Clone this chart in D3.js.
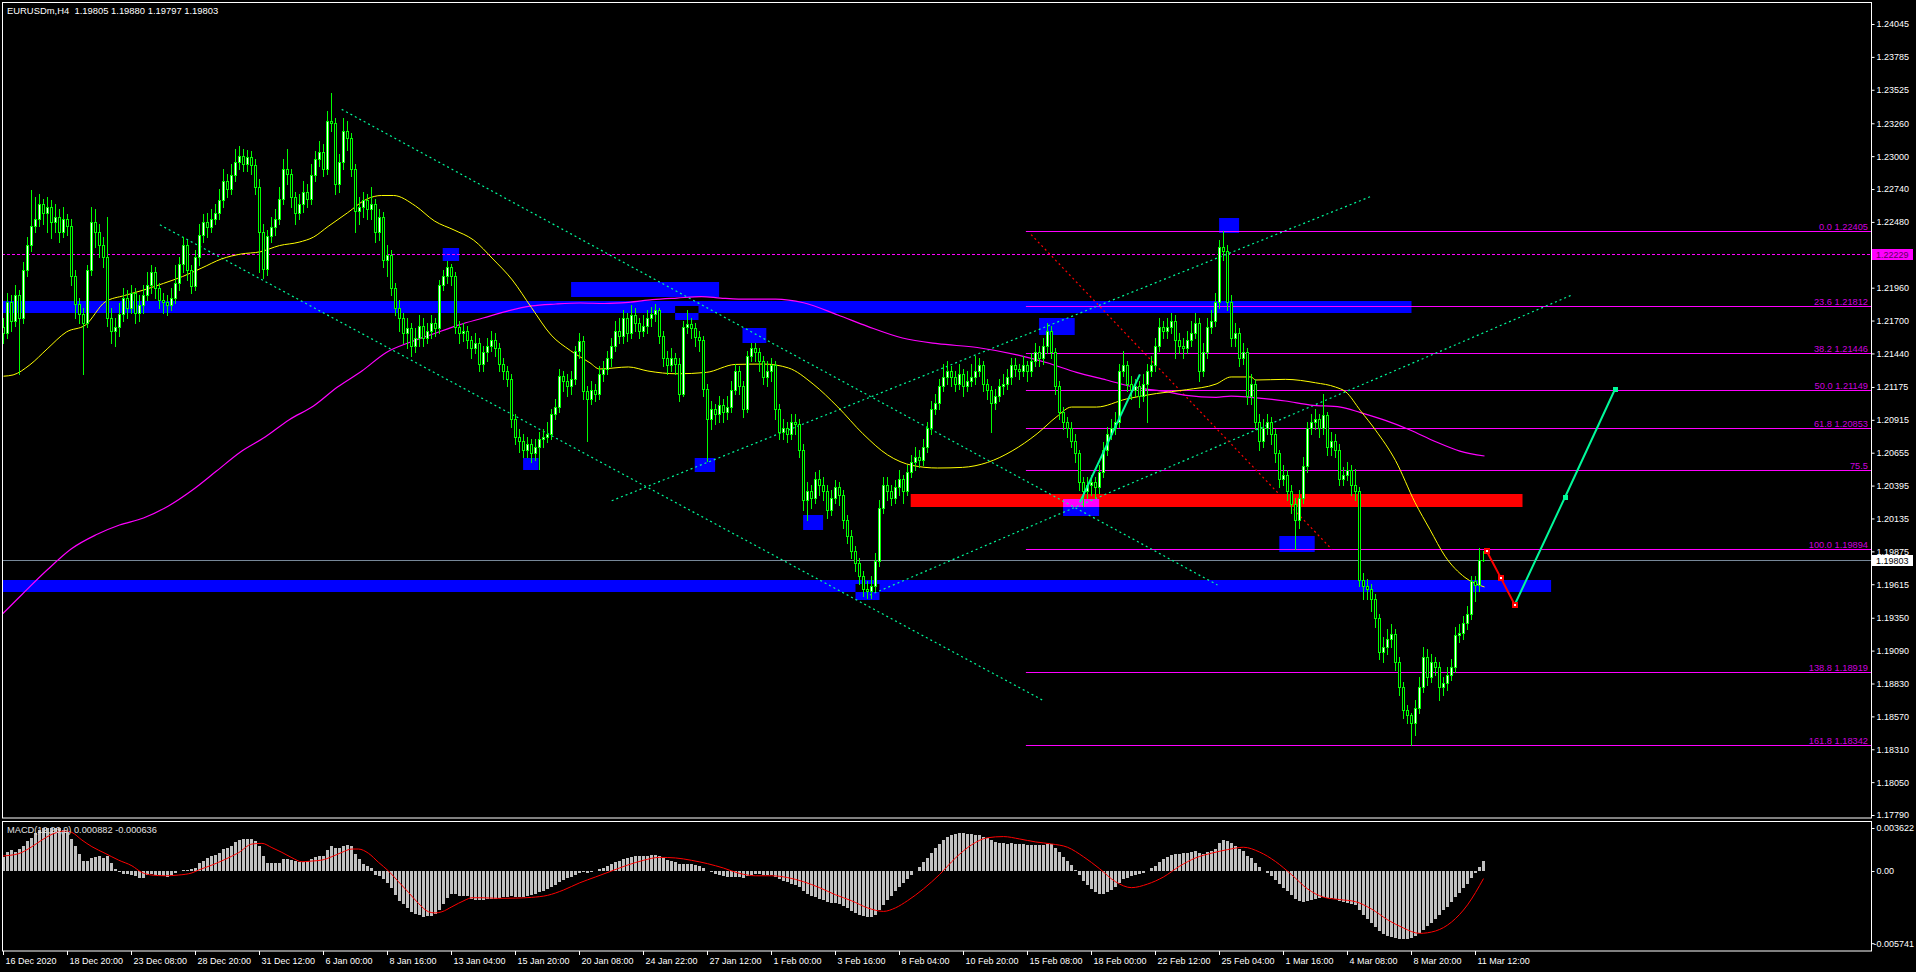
<!DOCTYPE html>
<html><head><meta charset="utf-8">
<script src="https://cdn.jsdelivr.net/npm/d3@7"></script>
<style>
html,body{margin:0;padding:0;background:#000;overflow:hidden;}
svg{display:block;}
text{font-family:"Liberation Sans",Arial,sans-serif;font-size:10px;}
</style></head><body>
<svg id="c" width="1916" height="972"></svg>
<script>
// ---- DATA (prices stored as pips above BASE) ----
const BASE = 1.18;
const symbolTitle = "EURUSDm,H4  1.19805 1.19880 1.19797 1.19803";
const macdTitle = "MACD(12,26,9) 0.000882 -0.000636";
const opens = [365,360,385,370,390,372,410,430,445,450,462,455,460,448,452,440,450,445,405,383,375,368,410,448,440,430,420,372,362,365,375,388,380,392,376,382,390,398,408,396,386,385,382,388,400,415,430,410,397,420,438,448,444,450,455,465,480,474,485,495,500,494,499,493,476,440,411,437,444,450,466,490,486,468,455,462,472,466,485,498,503,490,528,526,478,495,520,514,490,457,460,465,458,462,440,452,418,422,396,380,372,360,364,350,356,366,356,362,368,364,398,405,412,405,365,360,362,355,348,352,336,345,350,355,348,336,330,324,292,278,275,268,272,265,270,276,278,280,296,302,326,322,318,324,346,354,314,308,315,312,328,332,340,350,362,358,372,360,374,368,362,366,372,375,378,358,340,335,340,336,312,365,367,364,357,355,316,292,300,296,303,298,302,315,330,318,300,342,348,345,338,325,330,335,300,282,285,280,290,288,268,228,235,230,245,240,235,220,230,238,232,212,200,188,178,168,158,156,160,180,222,240,235,230,238,245,235,250,258,262,260,270,285,300,305,318,325,330,325,320,328,318,322,325,330,335,320,315,305,310,318,320,325,335,332,330,335,330,338,345,340,350,362,345,318,298,290,285,275,265,242,235,240,242,238,250,268,280,285,290,330,335,320,315,318,310,320,330,335,350,365,362,365,370,355,350,348,355,360,368,330,345,365,370,385,428,425,385,356,360,340,345,310,320,290,275,285,290,280,265,245,248,235,225,212,230,255,285,290,292,285,295,270,275,268,245,248,252,240,235,165,160,158,150,135,108,112,118,122,100,80,62,58,52,64,80,104,88,100,96,80,83,90,96,121,123,131,138,164,161,180.5];
const highs = [372,392,390,398,394,416,436,473,468,470,466,468,465,462,458,460,454,450,410,388,380,414,460,458,446,436,452,380,372,384,396,394,398,396,390,398,408,414,412,400,392,390,396,414,420,436,434,414,426,446,454,455,458,462,474,490,486,494,506,508,506,505,504,498,482,446,442,452,458,476,498,506,490,472,470,480,478,494,504,512,510,536,550,530,502,530,528,518,494,468,472,470,476,466,458,456,430,426,400,386,376,372,368,364,374,372,368,374,372,402,410,417,415,408,370,368,366,358,360,356,350,356,362,360,352,340,334,328,296,284,280,278,276,276,282,284,290,300,308,332,330,328,330,350,360,358,318,322,320,334,338,346,356,370,372,378,376,382,380,372,374,378,381,383,380,362,346,348,344,340,370,378,372,368,362,358,320,306,304,310,308,310,322,336,334,322,346,352,352,348,342,338,340,338,304,292,290,296,296,292,272,242,240,250,252,246,240,236,244,242,236,216,204,192,182,172,164,168,186,228,246,246,240,244,252,248,256,264,270,268,276,290,306,312,324,336,338,334,330,336,332,330,336,342,340,338,324,318,316,324,328,332,340,340,336,342,338,344,352,350,356,368,366,348,322,302,294,290,280,268,246,246,248,246,256,274,286,292,298,336,346,338,326,324,322,328,336,342,356,372,370,372,376,374,360,356,362,370,376,372,352,372,378,392,434,440.5,430,390,368,364,352,348,328,324,296,292,296,294,284,268,256,252,240,230,236,262,290,296,300,296,312,298,282,280,272,254,258,256,253,238,170,166,162,154,138,120,126,130,126,104,84,66,60,70,88,112,110,106,104,100,88,96,102,128,130,136,144,168,168,190,188];
const lows = [352,356,362,366,328,368,405,425,440,445,446,440,435,440,432,436,438,398,372,368,328,365,406,428,420,412,366,352,350,358,370,372,376,368,370,376,386,392,388,380,376,374,378,384,394,408,402,392,394,414,432,436,440,446,450,460,468,470,480,490,488,488,486,470,408,404,406,432,438,446,462,478,460,446,450,456,460,462,480,492,484,486,520,470,472,490,505,484,440,446,452,450,450,432,434,412,405,390,374,362,352,348,342,345,350,350,352,356,358,360,394,400,398,360,352,354,348,340,344,330,330,338,346,342,330,324,318,286,272,266,262,262,258,260,253,270,274,276,292,298,314,310,312,320,340,308,275,304,306,308,322,328,334,346,352,352,354,356,362,356,358,360,366,370,352,334,328,330,328,306,310,360,356,350,346,310,259,284,288,290,290,292,298,312,312,294,298,338,338,330,320,318,322,292,276,276,274,276,280,262,220,212,222,226,232,228,214,216,226,224,206,194,182,172,162,152,151,151,156,176,218,228,224,226,232,226,232,246,252,254,256,266,280,296,300,314,320,318,314,316,310,314,318,320,326,314,308,282,300,306,312,316,320,326,324,326,322,326,334,334,336,344,340,312,292,284,278,270,258,236,223,230,232,230,234,246,264,276,280,286,326,314,308,310,302,306,290,326,330,346,356,356,360,340,344,340,344,350,356,322,326,340,360,366,380,418,378,350,350,334,336,304,304,284,268,270,280,272,258,238,240,228,218,189.5,206,226,250,280,284,278,280,264,264,262,240,240,244,232,228,160,150,150,140,128,102,100,106,112,94,74,56,52,34.2,42,60,76,82,84,90,70,74,78,86,92,116,118,126,134,148,156,179.7];
const closes = [360,385,370,390,372,410,430,445,450,462,455,460,448,452,440,450,445,405,383,375,368,410,448,440,430,420,372,362,365,375,388,380,392,376,382,390,398,408,396,386,385,382,388,400,415,430,410,397,420,438,448,444,450,455,465,480,474,485,495,500,494,499,493,476,440,411,437,444,450,466,490,486,468,455,462,472,466,485,498,503,490,528,526,478,495,520,514,490,457,460,465,458,462,440,452,418,422,396,380,372,360,364,350,356,366,356,362,368,364,398,405,412,405,365,360,362,355,348,352,336,345,350,355,348,336,330,324,292,278,275,268,272,265,270,276,278,280,296,302,326,322,318,324,346,354,314,308,315,312,328,332,340,350,362,358,372,360,374,368,362,366,372,375,378,358,340,335,340,336,312,365,367,364,357,355,316,292,300,296,303,298,302,315,330,318,300,342,348,345,338,325,330,335,300,282,285,280,290,288,268,228,235,230,245,240,235,220,230,238,232,212,200,188,178,168,158,156,160,180,222,240,235,230,238,245,235,250,258,262,260,270,285,300,305,318,325,330,325,320,328,318,322,325,330,335,320,315,305,310,318,320,325,335,332,330,335,330,338,345,340,350,362,345,318,298,290,285,275,265,242,235,240,242,238,250,268,280,285,290,330,335,320,315,318,310,320,330,335,350,365,362,365,370,355,350,348,355,360,368,330,345,365,370,385,428,425,385,356,360,340,345,310,320,290,275,285,290,280,265,245,248,235,225,212,230,255,285,290,292,285,295,270,275,268,245,248,252,240,235,165,160,158,150,135,108,112,118,122,100,80,62,58,52,64,80,104,88,100,96,80,83,90,96,121,123,131,138,164,161,181,180.3];

// moving averages, sampled [bar, pips]
const maYellow = [[0,326],[2.4,327],[6.6,335],[10.9,347.5],[15.75,361],[20.5,366.5],[25.4,384.7],[30.25,389.8],[35.1,394.2],[40,399.4],[44.75,404.8],[49.6,411.6],[54.5,418.7],[59.35,422.6],[64.2,424.4],[69,429.3],[73.9,432],[77.5,436],[81.15,444.4],[86,455.2],[90.85,466.1],[94.5,468.9],[97.5,468.9],[103,460.6],[107.75,448.7],[112.65,441.6],[117.5,433.7],[122.35,418.7],[127.2,402.1],[132,380.2],[136.9,358.6],[141.75,346.2],[146.6,336.6],[149,331.7],[156.25,333.3],[161.1,330.1],[168.4,327.9],[175.7,329],[182.95,335.3],[190,335.6],[196.25,332.5],[202.4,319.8],[208.6,301.6],[214.85,280.5],[221,263.8],[227.25,255.4],[233.5,253.4],[239.75,253.9],[246,257.8],[252.15,266.9],[258.4,280.5],[263.35,294.1],[267,301.6],[273.25,301.6],[280.75,308],[288.25,312.3],[295.7,315.3],[303.15,319.8],[306.9,325.4],[311.85,325.4],[313.1,323],[320.5,323.5],[328,320.8],[333,317.4],[335.5,313.8],[339.25,298.7],[343,283.4],[348,259.3],[352.9,226],[356.6,204.8],[360.4,183.6],[365.35,166.9],[370.25,159.3]];
const maMagenta = [[-1.25,134.8],[4.75,153.8],[10.9,172.7],[16.9,189.4],[23,200.4],[29,208.3],[35,213.9],[41.25,223.4],[47.25,236],[53.25,251],[59.25,266.1],[65.4,277.9],[71.45,291.6],[77.5,302.4],[83.5,317.4],[89.6,330.1],[95.7,344.8],[101.75,353],[107.75,359.8],[113.9,366.6],[119.9,372],[126,377.5],[132,381.6],[138.1,383.1],[144.2,383.9],[150.25,383.5],[156.25,384.4],[162.25,386.5],[168.4,387.8],[174.5,388.9],[179.25,387.8],[183.75,387],[193,387],[200,384.1],[208.6,374.4],[216,365.4],[224.75,356.2],[233.5,351.7],[243.45,348.7],[253.4,342.8],[260.9,336.6],[268.25,329],[275.75,323],[283.25,316.9],[290.75,313.8],[295.7,310.8],[303.15,309.3],[306.9,310.3],[311.85,309.3],[320.5,306.4],[326.75,303.2],[334.25,301.6],[339.25,297.2],[345.45,291.1],[351.65,283.5],[357.9,274.4],[364.1,266.8],[370.25,262.9]];

// MACD main (histogram) per bar (x1e-5) and signal samples [bar, x1e-5]
const macdHist = [121,157,174,163,185,213,253,275,317,345,359,359,362,359,359,345,331,269,213,146,84,84,106,118,124,112,129,68,16,-6,-22,-28,-34,-44,-56,-62,-34,-28,-34,-34,-40,-54,-34,-16,0,8,12,16,28,68,84,106,126,135,152,185,197,213,247,259,269,269,269,253,213,124,68,68,68,68,101,101,90,84,78,73,84,101,118,129,129,174,213,191,191,213,219,208,146,101,62,40,22,-34,-44,-68,-104,-140,-202,-253,-281,-315,-349,-365,-371,-391,-381,-381,-365,-325,-281,-230,-197,-197,-208,-213,-213,-236,-241,-247,-247,-236,-236,-236,-230,-222,-215,-212,-215,-218,-216,-210,-202,-192,-180,-168,-152,-135,-118,-96,-78,-62,-48,-30,-14,-12,-14,-8,2,14,28,42,58,74,86,100,108,118,124,126,128,130,132,134,124,110,96,86,76,58,60,62,60,54,46,28,4,-12,-26,-36,-46,-52,-54,-50,-50,-56,-44,-34,-28,-28,-32,-34,-34,-48,-66,-80,-94,-106,-116,-134,-170,-192,-212,-222,-232,-242,-258,-266,-270,-276,-292,-312,-334,-352,-368,-382,-390,-388,-372,-330,-285,-245,-208,-170,-132,-100,-64,-30,4,36,72,110,152,190,228,262,290,305,312,318,316,312,308,306,304,290,276,258,246,240,234,230,232,230,226,224,220,220,222,220,222,230,224,196,160,122,86,48,8,-36,-80,-118,-150,-176,-192,-190,-176,-158,-138,-100,-70,-56,-46,-34,-28,-14,4,22,46,76,100,120,138,142,146,148,152,158,166,150,146,156,168,186,232,262,256,234,214,188,168,130,108,70,30,4,-18,-42,-74,-112,-140,-172,-204,-238,-256,-258,-250,-240,-232,-228,-220,-226,-230,-236,-250,-262,-268,-276,-284,-330,-372,-406,-438,-468,-506,-530,-546,-556,-566,-572,-574,-570,-562,-546,-522,-494,-466,-438,-404,-368,-330,-300,-262,-222,-184,-146,-108,-62,-18,36,88.2];
const macdSignal = [[-0.4,126],[3.75,146],[7.1,205],[9.6,261],[12.1,309],[15.4,337],[17.1,325],[19.6,261],[22.1,205],[25.4,149],[28.75,92],[32.1,44],[34.6,-12],[37.1,-34],[40.4,-40],[43.75,-34],[47.1,-16],[48.75,8],[52.1,50],[55.4,98],[58.75,154],[62.1,227],[64.6,233],[67.1,197],[69.6,157],[72.1,112],[74.6,78],[77.1,84],[79.6,92],[82.1,121],[84.6,157],[87.1,185],[88.75,185],[91.25,149],[93.75,73],[96.25,0],[98.75,-90],[101.25,-180],[103.75,-273],[106.25,-343],[107.9,-353],[109.6,-343],[112.1,-301],[115.4,-245],[117.1,-225],[119.6,-225],[123.75,-230],[128,-228],[132,-222],[136,-205],[140,-160],[144,-100],[148,-50],[152,0],[156,50],[160,90],[164,115],[168,110],[172,90],[176,62],[180,25],[184,-20],[188,-40],[192,-40],[196,-55],[200,-90],[204,-140],[208,-200],[212,-250],[216,-310],[220,-340],[223,-310],[226,-250],[230,-150],[234,-30],[238,110],[242,220],[246,280],[250,290],[254,270],[258,245],[262,228],[266,200],[270,120],[274,20],[278,-90],[282,-140],[286,-110],[290,-50],[294,40],[298,110],[302,150],[306,180],[310,200],[314,160],[318,80],[322,-30],[326,-150],[330,-220],[334,-240],[338,-258],[342,-320],[346,-410],[350,-480],[354,-525],[358,-505],[362,-430],[366,-285],[370,-63.6]];

// axis labels
const timeLabels = ["16 Dec 2020","18 Dec 20:00","23 Dec 08:00","28 Dec 20:00","31 Dec 12:00","6 Jan 00:00","8 Jan 16:00","13 Jan 04:00","15 Jan 20:00","20 Jan 08:00","24 Jan 22:00","27 Jan 12:00","1 Feb 00:00","3 Feb 16:00","8 Feb 04:00","10 Feb 20:00","15 Feb 08:00","18 Feb 00:00","22 Feb 12:00","25 Feb 04:00","1 Mar 16:00","4 Mar 08:00","8 Mar 20:00","11 Mar 12:00"];
const timeTickBars = [0,16,32,48,64,80,96,112,128,144,160,176,192,208,224,240,256,272,288,304,320,336,352,368];
const priceTicks = [1.24045,1.23785,1.23525,1.23260,1.23000,1.22740,1.22480,1.21960,1.21700,1.21440,1.21175,1.20915,1.20655,1.20395,1.20135,1.19875,1.19615,1.19350,1.19090,1.18830,1.18570,1.18310,1.18050,1.17790];
const macdTicks = [0.003622,0,-0.005741];
const macdTickLabels = ["0.003622","0.00","-0.005741"];

// fibonacci
const fibPrices = [1.22405,1.21812,1.21446,1.21149,1.20853,1.20515,1.19894,1.18919,1.18342];
const fibLabels = ["0.0 1.22405","23.6 1.21812","38.2 1.21446","50.0 1.21149","61.8 1.20853","75.5","100.0 1.19894","138.8 1.18919","161.8 1.18342"];
const fibStartBar = 255.6;

// horizontal zones [bar1, bar2, pips1, pips2]
const blueBands = [[-2,352,376,385.6],[-2,386.9,155.3,164.8]];
const redBands = [[226.8,379.75,222.3,232.6]];
const blueBoxes = [[141.9,178.9,388.5,400.1],[109.8,113.9,417.1,427.1],[129.9,133.75,252.1,261.1],[167.9,173.75,370.2,381.6],[172.8,177.9,250.3,261.6],[184.75,190.7,352.3,363.8],[199.9,204.9,204.1,216],[213,219,149.3,161.4],[258.9,267.8,358.6,372],[264.9,273.9,215.5,228.7],[303.9,308.9,439.5,451.1],[318.95,327.8,187.2,199.3]];

// trend lines [bar1, pips1, bar2, pips2]
const dottedGreen = [[84.55,537,303.5,160.9],[39.1,445.7,259.75,69.9],[152.05,227.5,341.9,468.2],[216.6,153,392.4,390.6]];
const dottedRed = [[256.9,438,332.1,189]];
const solidGreen = [[269.1,226.2,284.1,327.4]];
const zigRed = [[370.75,188],[374.3,166.7],[377.8,145.3]];
const zigGreen = [[377.8,145.3],[390.4,230.5],[402.9,315.9]];

const lineLevel = 1.22229;
const lastPrice = 1.19803;

// ---- DRAW ----
const svg = d3.select("#c");
const PL=2, PT=2, PR=1871, PB=818, MT=821, MB=951;
const x = d3.scaleLinear().domain([0,370]).range([3.5,1483.5]);
const y = d3.scaleLinear().domain([1.177664,1.24219]).range([818,2]);
const yv = v => y(BASE + v/1e4);
const py = v => Math.round(yv(v));
const ym = d3.scaleLinear().domain([-0.005741,0.003622]).range([939.2,828]);
const LIME="#00ff00", SPRING="#00fa9a", MAG="#ff00ff";

// font sizes fitted to the widths of the reference texts
function fitSize(sample, targetW){
  const t = svg.append("text").attr("font-size",10).text(sample);
  const w = t.node().getComputedTextLength(); t.remove();
  return 10*targetW/w;
}
const fsHdr = fitSize(symbolTitle, 209);
const fsMacd = fitSize(macdTitle, 150);
const fsPrice = fitSize("1.24045", 32.5);
const fsTime = fitSize("16 Dec 2020", 51);
const fsFib = fitSize("0.0 1.22405", 49);

svg.append("rect").attr("width",1916).attr("height",972).attr("fill","#000");
const defs = svg.append("defs");
defs.append("clipPath").attr("id","cm").append("rect").attr("x",3).attr("y",3).attr("width",PR-3).attr("height",PB-3);
defs.append("clipPath").attr("id","cd").append("rect").attr("x",3).attr("y",MT+1).attr("width",PR-3).attr("height",MB-MT-1);

const main = svg.append("g").attr("clip-path","url(#cm)");

// zones
const zones = main.append("g").style("isolation","isolate");
const zr = (g,d,col,blend)=>g.append("rect")
  .attr("x",x(d[0])).attr("width",x(d[1])-x(d[0]))
  .attr("y",Math.round(yv(d[3]))).attr("height",Math.round(yv(d[2]))-Math.round(yv(d[3])))
  .attr("fill",col).style("mix-blend-mode",blend);
blueBands.forEach(d=>zr(zones,d,"#0000ff","normal"));
redBands.forEach(d=>zr(zones,d,"#ff0000","normal"));
blueBoxes.forEach(d=>zr(zones,d,"#0000ff","difference"));

// fib lines
fibPrices.forEach(p=>{
  const yy=Math.round(y(p))+0.5;
  main.append("line").attr("x1",x(fibStartBar)).attr("x2",PR).attr("y1",yy).attr("y2",yy).attr("stroke",MAG).attr("stroke-width",1);
});
// horizontal line & current price
{const yy=Math.round(y(lineLevel))+0.5;
main.append("line").attr("x1",PL).attr("x2",PR).attr("y1",yy).attr("y2",yy).attr("stroke",MAG).attr("stroke-dasharray","3,2");}
{const yy=Math.round(y(lastPrice))+0.5;
main.append("line").attr("x1",PL).attr("x2",PR).attr("y1",yy).attr("y2",yy).attr("stroke","#778899");}

// dotted trend lines
const seg=(d,col,w,dash)=>main.append("line").attr("x1",x(d[0])).attr("y1",yv(d[1])).attr("x2",x(d[2])).attr("y2",yv(d[3]))
  .attr("stroke",col).attr("stroke-width",w).attr("stroke-dasharray",dash);
dottedGreen.forEach(d=>seg(d,SPRING,1.2,"2,3"));
dottedRed.forEach(d=>seg(d,"#ff0000",1.2,"2,3"));

// moving averages
const maLine = d3.line().x(d=>x(d[0])).y(d=>yv(d[1])).curve(d3.curveMonotoneX);
main.append("path").attr("d",maLine(maMagenta)).attr("fill","none").attr("stroke",MAG).attr("stroke-width",1.2);
main.append("path").attr("d",maLine(maYellow)).attr("fill","none").attr("stroke","#ffff00").attr("stroke-width",1);

// candles
const bars = closes.map((c,i)=>({i,o:opens[i],h:highs[i],l:lows[i],c}));
const cg = main.append("g");
cg.selectAll("rect.w").data(bars).join("rect").attr("class","w")
  .attr("x",d=>x(d.i)-0.5).attr("width",1)
  .attr("y",d=>py(d.h)).attr("height",d=>py(d.l)-py(d.h)+1).attr("fill",LIME);
bars.forEach(d=>{
  const top=py(Math.max(d.o,d.c)), bot=py(Math.min(d.o,d.c));
  if(bot-top<2){
    cg.append("rect").attr("x",x(d.i)-1.5).attr("width",3).attr("y",top).attr("height",bot-top+1).attr("fill",LIME);
  } else {
    cg.append("rect").attr("x",x(d.i)-1).attr("width",2).attr("y",top+0.5).attr("height",bot-top)
      .attr("fill",d.c>d.o?"#ffffff":"#000000").attr("stroke",LIME).attr("stroke-width",1);
  }
});

// solid green line and zigzag projection
solidGreen.forEach(d=>seg(d,SPRING,2,null));
const pl = d3.line().x(d=>x(d[0])).y(d=>yv(d[1]));
main.append("path").attr("d",pl(zigGreen)).attr("fill","none").attr("stroke",SPRING).attr("stroke-width",2);
main.append("path").attr("d",pl(zigRed)).attr("fill","none").attr("stroke","#ff0000").attr("stroke-width",2);
zigGreen.slice(1).forEach(d=>{
  main.append("rect").attr("x",Math.round(x(d[0]))-2).attr("y",Math.round(yv(d[1]))-2).attr("width",5).attr("height",5).attr("fill",SPRING);
});
zigRed.forEach(d=>{
  const cx=Math.round(x(d[0])), cy=Math.round(yv(d[1]));
  main.append("rect").attr("x",cx-3).attr("y",cy-3).attr("width",6).attr("height",6).attr("fill","#ff0000");
  main.append("rect").attr("x",cx-1).attr("y",cy-1).attr("width",2).attr("height",2).attr("fill","#ffffff");
});

// fib labels
fibPrices.forEach((p,k)=>{
  svg.append("text").attr("x",1868).attr("y",Math.round(y(p))-1.5).attr("text-anchor","end")
    .style("font-size",fsFib+"px").attr("fill","#cc00dd").text(fibLabels[k]);
});

// MACD panel
const mg = svg.append("g").attr("clip-path","url(#cd)");
const z0 = Math.round(ym(0));
mg.selectAll("rect").data(macdHist).join("rect")
  .attr("x",(d,i)=>x(i)-1.5).attr("width",3)
  .attr("y",d=>Math.min(z0,Math.round(ym(d/1e5)))).attr("height",d=>Math.abs(Math.round(ym(d/1e5))-z0))
  .attr("fill","#c0c0c0");
const sl = d3.line().x(d=>x(d[0])).y(d=>ym(d[1]/1e5)).curve(d3.curveMonotoneX);
mg.append("path").attr("d",sl(macdSignal)).attr("fill","none").attr("stroke","#ff0000").attr("stroke-width",1);

// frames
svg.append("rect").attr("x",PL+0.5).attr("y",PT+0.5).attr("width",PR-PL).attr("height",PB-PT-0.5).attr("fill","none").attr("stroke","#fff");
svg.append("rect").attr("x",PL+0.5).attr("y",MT+0.5).attr("width",PR-PL).attr("height",MB-MT-0.5).attr("fill","none").attr("stroke","#fff");

// price axis
const pa = svg.append("g").attr("transform",`translate(${PR+0.5},0)`)
  .call(d3.axisRight(y).tickValues(priceTicks).tickFormat(d3.format(".5f")).tickSize(3).tickPadding(2));
pa.select(".domain").remove();
pa.selectAll("line").attr("stroke","#fff");
pa.selectAll("text").attr("fill","#fff").style("font-size",fsPrice+"px");

// MACD axis
const ma = svg.append("g").attr("transform",`translate(${PR+0.5},0)`)
  .call(d3.axisRight(ym).tickValues(macdTicks).tickFormat((d,i)=>macdTickLabels[i]).tickSize(3).tickPadding(2));
ma.select(".domain").remove();
ma.selectAll("line").attr("stroke","#fff");
ma.selectAll("text").attr("fill","#fff").style("font-size",fsPrice+"px");
ma.selectAll(".tick").filter(d=>d<0).attr("transform",`translate(0,${ym(-0.005741)+4.5})`).select("text").attr("x",2);

// time axis
const ta = svg.append("g").attr("transform",`translate(-0.5,${MB})`)
  .call(d3.axisBottom(x).tickValues(timeTickBars).tickFormat((d,i)=>timeLabels[i]).tickSize(4));
ta.select(".domain").remove();
ta.selectAll("line").attr("stroke","#fff");
ta.selectAll("text").attr("fill","#fff").style("font-size",fsTime+"px")
  .attr("text-anchor","start").attr("x",2).attr("y",13).attr("dy",null);

// price label boxes
function priceBox(p,bg,fg){
  const yy=Math.round(y(p));
  svg.append("rect").attr("x",1872).attr("y",yy-5).attr("width",41).attr("height",11).attr("fill",bg);
  svg.append("text").attr("x",1876).attr("y",yy+3.5).attr("fill",fg).style("font-size",fsPrice+"px").text(d3.format(".5f")(p));
}
priceBox(lineLevel,MAG,"#600060");
priceBox(lastPrice,"#ffffff","#000000");

// titles
svg.append("text").attr("x",7).attr("y",14).attr("fill","#fff").style("font-size",fsHdr+"px").style("white-space","pre").text(symbolTitle);
svg.append("text").attr("x",7).attr("y",833).attr("fill","#e0e0e0").style("font-size",fsMacd+"px").text(macdTitle);
</script>
</body></html>
